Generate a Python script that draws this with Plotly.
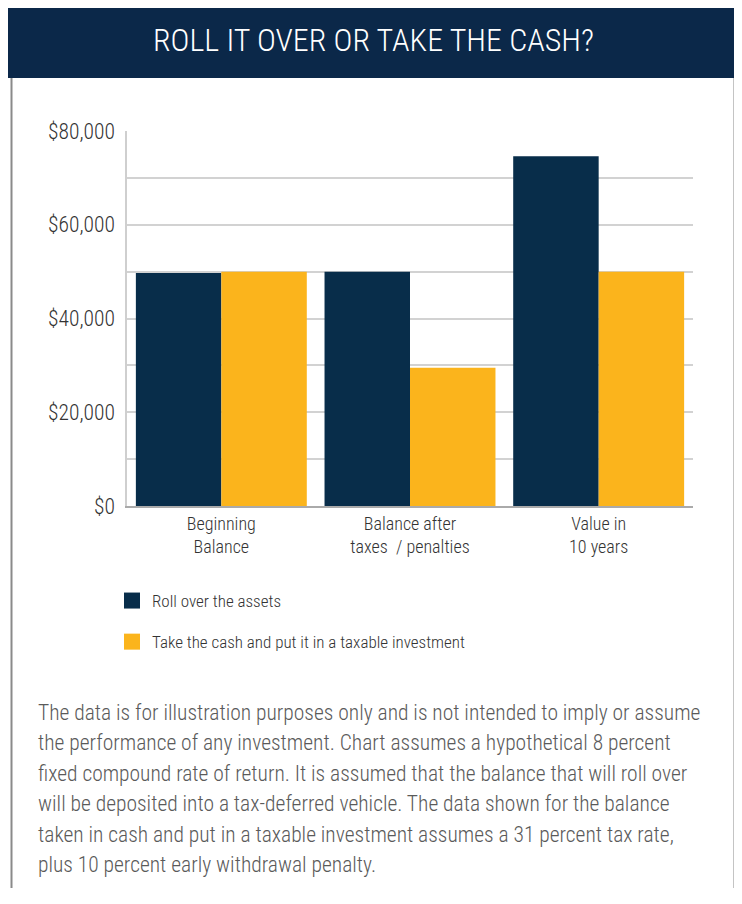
import plotly.graph_objects as go

# data
categories = ["Beginning<br>Balance", "Balance after<br>taxes  / penalties", "Value in<br>10 years"]
roll_over = [49700, 50000, 74600]
take_cash = [50000, 29500, 50000]
series_names = ["Roll over the assets", "Take the cash and put it in a taxable investment"]
y_tickvals = [0, 20000, 40000, 60000, 80000]
y_ticktext = ["$0", "$20,000", "$40,000", "$60,000", "$80,000"]
title_text = "ROLL IT OVER OR TAKE THE CASH?"
footnote_lines = [
    "The data is for illustration purposes only and is not intended to imply or assume",
    "the performance of any investment. Chart assumes a hypothetical 8 percent",
    "fixed compound rate of return. It is assumed that the balance that will roll over",
    "will be deposited into a tax-deferred vehicle. The data shown for the balance",
    "taken in cash and put in a taxable investment assumes a 31 percent tax rate,",
    "plus 10 percent early withdrawal penalty.",
]

NAVY = "#082d4a"
GOLD = "#fbb41c"
HEADER = "#0b2849"
FONT = "Roboto Condensed, Liberation Sans Narrow, Roboto, sans-serif"

# page has an 8px body margin, so the figure is shrunk and coords are shifted
OFF = 8
W, H = 742 - OFF, 880
L, R, T, B = 127 - OFF, 49, 131 - OFF, 382
PW, PH = W - L - R, H - T - B


def px_x(px):
    # page pixel -> paper x
    return (px - OFF - L) / PW


def px_y(py):
    # page pixel -> paper y
    return (H - B - (py - OFF)) / PH


fig = go.Figure()
fig.add_trace(go.Bar(x=categories, y=roll_over, name=series_names[0],
                     marker=dict(color=NAVY, line=dict(width=0)), showlegend=False))
fig.add_trace(go.Bar(x=categories, y=take_cash, name=series_names[1],
                     marker=dict(color=GOLD, line=dict(width=0)), showlegend=False))

# legend entries with bigger square swatches
for i, (name, col) in enumerate(zip(series_names, [NAVY, GOLD])):
    fig.add_trace(go.Scatter(x=[None], y=[None], mode="markers", name=name,
                             legendgroup=str(i),
                             marker=dict(symbol="square", size=18, color=col)))

shapes = [
    # header band
    dict(type="rect", xref="paper", yref="paper", x0=px_x(8), x1=px_x(742),
         y0=px_y(78), y1=px_y(8), fillcolor=HEADER, line=dict(width=0), layer="below"),
    # frame
    dict(type="line", xref="paper", yref="paper", x0=px_x(11.5), x1=px_x(11.5),
         y0=px_y(78), y1=px_y(888), line=dict(color="#8a8a8a", width=2)),
    dict(type="line", xref="paper", yref="paper", x0=px_x(734.5), x1=px_x(734.5),
         y0=px_y(78), y1=px_y(888), line=dict(color="#8a8a8a", width=2)),
]

annotations = [
    dict(text=title_text, xref="paper", yref="paper", x=px_x(373), y=px_y(40),
         xanchor="center", yanchor="middle", showarrow=False,
         font=dict(family=FONT, size=32, weight=300, color="white")),
]
for i, line in enumerate(footnote_lines):
    annotations.append(dict(text=line, xref="paper", yref="paper",
                            x=px_x(36), y=px_y(712 + 30.5 * i),
                            xanchor="left", yanchor="middle", showarrow=False,
                            font=dict(family=FONT, size=21.5, weight=300, color="#5a5a5a")))

fig.update_layout(
    width=W, height=H,
    margin=dict(l=L, r=R, t=T, b=B),
    paper_bgcolor="white", plot_bgcolor="white",
    barmode="group", bargap=0.094, bargroupgap=0,
    font=dict(family=FONT, color="#333333"),
    shapes=shapes, annotations=annotations,
    legend=dict(x=px_x(112), y=px_y(583), xanchor="left", yanchor="top",
                font=dict(family=FONT, size=17, weight=300, color="#333333"),
                tracegroupgap=16, traceorder="grouped", bgcolor="rgba(0,0,0,0)"),
    showlegend=True,
)
fig.update_xaxes(
    showgrid=False, showline=True, linecolor="#aaaaaa", linewidth=2,
    ticks="", tickfont=dict(family=FONT, size=18, weight=300, color="#333333"),
    fixedrange=True,
)
fig.update_yaxes(
    range=[0, 80000], tickvals=y_tickvals, ticktext=y_ticktext,
    showgrid=True, gridcolor="#d2d2d2", gridwidth=1.5,
    minor=dict(dtick=10000, showgrid=True, gridcolor="#d2d2d2", gridwidth=1.5),
    showline=True, linecolor="#cfcfcf", linewidth=1.5,
    zeroline=False, ticks="", ticklabelstandoff=6,
    tickfont=dict(family=FONT, size=21.5, weight=300, color="#333333"),
    fixedrange=True,
)

fig.write_html("out.html")
